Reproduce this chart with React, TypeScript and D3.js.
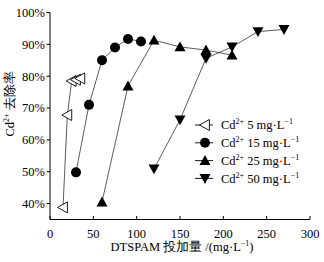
import React from "react";
import * as d3 from "d3";

const xTicks = [0, 50, 100, 150, 200, 250, 300];
const yTicks = [40, 50, 60, 70, 80, 90, 100];

const s5x = [15, 20, 25, 30, 35];
const s5y = [38.8, 67.8, 78.5, 78.9, 79.3];
const s15x = [30, 45, 60, 75, 90, 105];
const s15y = [49.8, 71, 85, 89, 91.7, 90.9];
const s25x = [60, 90, 120, 150, 180, 210];
const s25y = [40.5, 76.9, 91.3, 89.2, 88.2, 86.6];
const s50x = [120, 150, 180, 210, 240, 270];
const s50y = [50.9, 66.3, 85.6, 89.2, 94, 94.7];

const seriesNames = ["5 mg·L", "15 mg·L", "25 mg·L", "50 mg·L"];
const markers = ["left", "circle", "up", "down"];

const W = 324, H = 262;
const left = 50, right = 310, top = 12.5, bottom = 219.5;

function Marker({ type, x, y }: { type: string; x: number; y: number }) {
  const s = 5.5;
  if (type === "circle") return <circle cx={x} cy={y} r={5} fill="#000" />;
  if (type === "up")
    return <path d={`M${x},${y - s}L${x + s},${y + s * 0.8}L${x - s},${y + s * 0.8}Z`} fill="#000" />;
  if (type === "down")
    return <path d={`M${x},${y + s}L${x + s},${y - s * 0.8}L${x - s},${y - s * 0.8}Z`} fill="#000" />;
  return (
    <path
      d={`M${x - s},${y}L${x + s * 0.8},${y - s}L${x + s * 0.8},${y + s}Z`}
      fill="#fff"
      stroke="#000"
      strokeWidth={0.9}
    />
  );
}

export default function App() {
  const x = d3.scaleLinear().domain([0, 300]).range([left, right]);
  const y = d3.scaleLinear().domain([35, 100]).range([bottom, top]);
  const line = d3
    .line<[number, number]>()
    .x((d) => x(d[0]))
    .y((d) => y(d[1]));
  const series = [
    [s5x, s5y],
    [s15x, s15y],
    [s25x, s25y],
    [s50x, s50y],
  ];
  const font = "'Liberation Serif', 'Times New Roman', serif";
  return (
    <svg
      width={W}
      height={H}
      style={{ position: "absolute", left: 0, top: 0, background: "#fff" }}
      fontFamily={font}
    >
      {/* axes */}
      <line x1={left} x2={left} y1={top} y2={bottom} stroke="#000" strokeWidth={1} />
      <line x1={left} x2={right} y1={bottom} y2={bottom} stroke="#000" strokeWidth={1} />
      {yTicks.map((t) => (
        <g key={t}>
          <line x1={left - 3.5} x2={left} y1={y(t)} y2={y(t)} stroke="#000" />
          <text x={left - 5} y={y(t)} dy="0.35em" textAnchor="end" fontSize={12.5}>
            {t}%
          </text>
        </g>
      ))}
      <line x1={left - 3.5} x2={left} y1={y(100)} y2={y(100)} stroke="#000" />
      {xTicks.map((t) => (
        <g key={t}>
          <line x1={x(t)} x2={x(t)} y1={bottom} y2={bottom - 3.5} stroke="#000" />
          <text x={x(t)} y={bottom + 18} textAnchor="middle" fontSize={12.5}>
            {t}
          </text>
        </g>
      ))}
      {/* series */}
      {series.map(([xs, ys], i) => {
        const pts = xs.map((v, j) => [v, ys[j]] as [number, number]);
        return (
          <g key={i}>
            <path d={line(pts) || ""} fill="none" stroke="#333" strokeWidth={0.8} />
            {pts.map((p, j) => (
              <Marker key={j} type={markers[i]} x={x(p[0])} y={y(p[1])} />
            ))}
          </g>
        );
      })}
      {/* legend */}
      {seriesNames.map((n, i) => {
        const ly = 125 + i * 17.8;
        return (
          <g key={n}>
            <line x1={195} x2={213} y1={ly} y2={ly} stroke="#000" strokeWidth={0.9} />
            <Marker type={markers[i]} x={205} y={ly} />
            <text x={221} y={ly} dy="0.35em" fontSize={12.5}>
              Cd<tspan fontSize={8} dy="-5">2+</tspan>
              <tspan dy="5"> {n}</tspan>
              <tspan fontSize={8} dy="-5">−1</tspan>
            </text>
          </g>
        );
      })}
      {/* axis titles */}
      <text x={182} y={251} textAnchor="middle" fontSize={12.5}>
        DTSPAM 投加量 /(mg·L<tspan fontSize={8} dy="-5">−1</tspan>
        <tspan dy="5">)</tspan>
      </text>
      <text transform={`translate(14,104) rotate(-90)`} textAnchor="middle" fontSize={12.5}>
        Cd<tspan fontSize={8} dy="-5">2+</tspan>
        <tspan dy="5"> 去除率</tspan>
      </text>
    </svg>
  );
}
